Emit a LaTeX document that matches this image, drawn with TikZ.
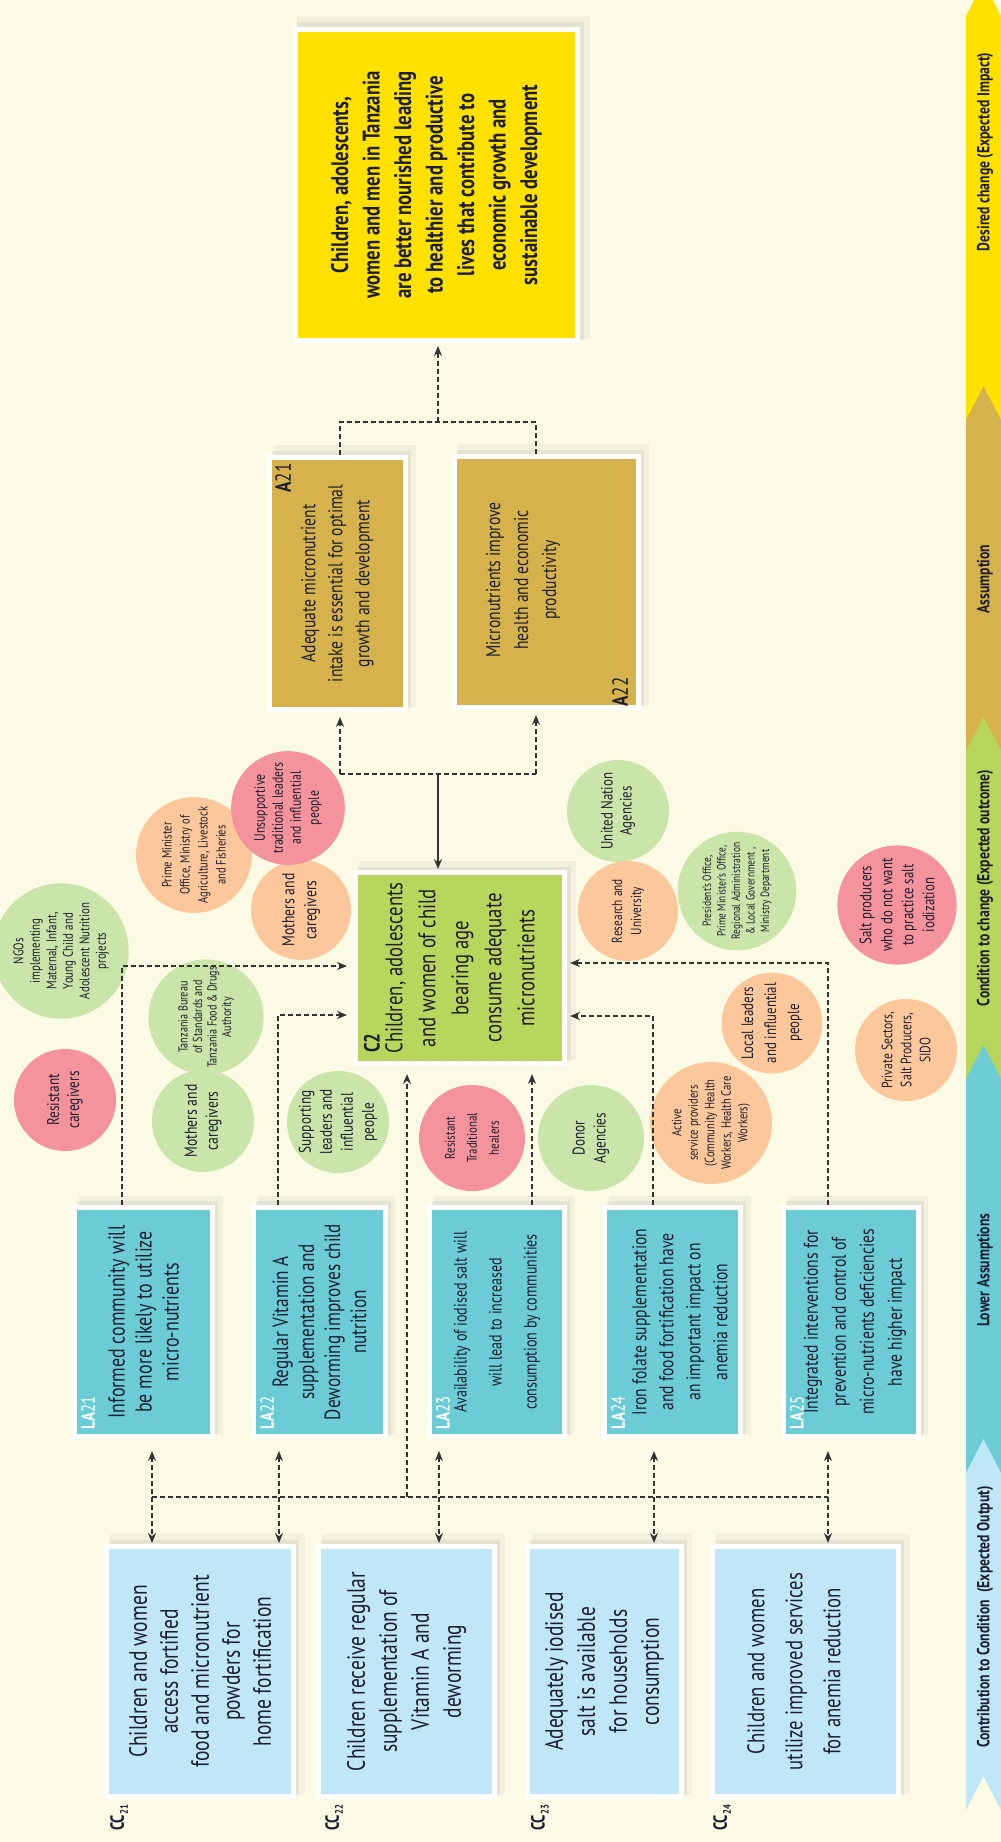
\documentclass[tikz,border=0pt]{standalone}
\usepackage{fontspec}
\setmainfont{PT Sans}[FakeStretch=0.78]
\usetikzlibrary{arrows.meta,shadows}
\definecolor{bg}{HTML}{FBFAE5}
\definecolor{txt}{HTML}{1E1E30}
\definecolor{cyel}{HTML}{FFE100}
\definecolor{ctan}{HTML}{D5B24B}
\definecolor{cgrn}{HTML}{B7D65B}
\definecolor{cteal}{HTML}{6CCCD6}
\definecolor{clb}{HTML}{BFE7F8}
\definecolor{kgrn}{HTML}{CAE5A9}
\definecolor{korg}{HTML}{FCC89B}
\definecolor{kpnk}{HTML}{F4939C}
\definecolor{lne}{HTML}{333333}
\newcommand{\fs}[2]{\fontsize{#1}{#2}\selectfont}
\tikzset{
  box/.style={rotate=90, draw=white, line width=5pt, inner sep=0pt, outer sep=2.5pt,
    align=center, text=txt,
    drop shadow={shadow xshift=7pt, shadow yshift=7pt, opacity=0.07, shadow scale=1.04},
    drop shadow={shadow xshift=4pt, shadow yshift=4pt, opacity=0.12, shadow scale=1.02}},
  circ/.style={circle, rotate=90, inner sep=0pt, align=center, text=txt},
  lbl/.style={rotate=90, inner sep=0pt, align=center, text=txt},
  dl/.style={draw=lne, line width=1.3pt, dash pattern=on 5pt off 3pt},
  sl/.style={draw=lne, line width=1.3pt},
  arr/.style={-{Stealth[length=10pt,width=8pt]}, shorten >=3pt},
  darr/.style={{Stealth[length=10pt,width=8pt]}-{Stealth[length=10pt,width=8pt]}},
  band/.style={rotate=90, inner sep=0pt, text=txt, font=\bfseries\fs{17.5}{17.5}}
}
\begin{document}
\begin{tikzpicture}[x=1pt,y=-1pt]
\useasboundingbox (0,0) rectangle (1001,1842);
\fill[bg] (0,0) rectangle (1001,1842);

% right band
\fill[cyel] (966,16) -- (983.5,-18) -- (1001,16) -- (1001,420) -- (966,420) -- cycle;
\fill[ctan] (966,420) -- (983.5,386) -- (1001,420) -- (1001,751) -- (966,751) -- cycle;
\fill[cgrn] (966,751) -- (983.5,717) -- (1001,751) -- (1001,1079) -- (966,1079) -- cycle;
\fill[cteal] (966,1079) -- (983.5,1045) -- (1001,1079) -- (1001,1473) -- (966,1473) -- cycle;
\fill[clb] (966,1473) -- (983.5,1439) -- (1001,1473) -- (1001,1810) -- (983.5,1776) -- (966,1810) -- cycle;
\node[band] (t1) at (985,152) {Desired change (Expected Impact)};
\node[band] (t2) at (985,579) {Assumption};
\node[band] (t3) at (985,888) {Condition to change (Expected outcome)};
\node[band] (t4) at (985,1270) {Lower Assumptions};
\node[band] (t5) at (985,1617) {Contribution to Condition~~(Expected Output)};

% circles
\node[circ, fill=kpnk, minimum size=102pt, font=\fs{17}{20}] (k1) at (65,1100) {Resistant\\caregivers};
\node[circ, fill=kgrn, minimum size=102pt, font=\fs{17.5}{21}] (k2) at (203,1121) {Mothers and\\caregivers};
\node[circ, fill=kgrn, minimum size=106pt, font=\fs{13}{14.5}] (k3) at (206,1017) {Tanzania Bureau\\of Standards and\\Tanzania Food \& Drugs\\Authority};
\node[circ, fill=kgrn, minimum size=110pt, font=\fs{14}{16.5}] (k4) at (61,951) {NGOs\\implementing\\Maternal, Infant,\\Young Child and\\Adolescent Nutrition\\projects};
\node[circ, fill=korg, minimum size=104pt, font=\fs{13.5}{18}] (k5) at (194,855) {Prime Minister\\Office, Ministry of\\Agriculture, Livestock\\and Fisheries};
\node[circ, fill=korg, minimum size=100pt, font=\fs{17.5}{22}] (k6) at (301,910) {Mothers and\\caregivers};
\node[circ, fill=kpnk, minimum size=100pt, font=\fs{15}{18}] (k7) at (288,808) {Unsupportive\\traditional leaders\\and influential\\people};
\node[circ, fill=kgrn, minimum size=102pt, font=\fs{17}{21}] (k8) at (338,1122) {Supporting\\leaders and\\influential\\people};
\node[circ, fill=kpnk, minimum size=106pt, font=\fs{14}{22}] (k9) at (472,1138) {Resistant\\Traditional\\healers};
\node[circ, fill=kgrn, minimum size=106pt, font=\fs{17}{21}] (k10) at (591,1138) {Donor\\Agencies};
\node[circ, fill=kgrn, minimum size=102pt, font=\fs{16.5}{19}] (k11) at (618,811) {United Nation\\Agencies};
\node[circ, fill=korg, minimum size=100pt, font=\fs{14.5}{19}] (k12) at (628,911) {Research and\\University};
\node[circ, fill=kgrn, minimum size=102pt, font=\fs{12}{14.5}] (k13) at (737,891) {President's Office,\\Prime Minister's Office,\\Regional Administration\\\& Local Government ,\\Ministry Department};
\node[circ, fill=kpnk, minimum size=102pt, font=\fs{16.5}{21}] (k14) at (897,905) {Salt producers\\who do not want\\to practice salt\\iodization};
\node[circ, fill=korg, minimum size=100pt, font=\fs{16.5}{23}] (k15) at (772,1023) {Local leaders\\and influential\\people};
\node[circ, fill=korg, minimum size=100pt, font=\fs{13.5}{16.5}] (k16) at (711,1123) {Active\\service providers\\(Community Health\\Workers, Health Care\\Workers)};
\node[circ, fill=korg, minimum size=102pt, font=\fs{15}{19}] (k17) at (906,1050) {Private Sectors,\\Salt Producers,\\SIDO};

% impact
\node[box, fill=cyel, minimum width=311pt, minimum height=282pt, font=\bfseries\fs{24}{31.5}] (imp) at (436.5,185)
  {Children, adolescents,\\women and men in Tanzania\\are better nourished leading\\to healthier and productive\\lives that contribute to\\economic growth and\\sustainable development};

% assumptions
\node[box, fill=ctan, minimum width=252pt, minimum height=136pt, font=\fs{20}{27}] (a21) at (337.5,583.5)
  {Adequate micronutrient\\intake is essential for optimal\\growth and development};
\node[lbl, font=\fs{22}{22}] (a21l) at (283,478) {\bfseries A\mdseries 21};
\node[box, fill=ctan, minimum width=251pt, minimum height=184pt] (a22) at (546.5,582) {};
\node[lbl, font=\fs{20}{28}] (a22t) at (523,580) {Micronutrients improve\\health and economic\\productivity};
\node[lbl, font=\fs{22}{22}] (a22l) at (620,692) {\bfseries A\mdseries 22};

% condition
\node[box, fill=cgrn, minimum width=191pt, minimum height=209pt, font=\fs{24}{33}] (c2) at (460,968)
  {Children, adolescents\\and women of child\\bearing age\\consume adequate\\micronutrients};
\node[lbl, font=\bfseries\fs{22}{22}] (c2l) at (372,1043) {C2};

% lower assumptions
\node[box, fill=cteal, minimum width=229pt, minimum height=138pt, font=\fs{23}{27}] (la21) at (143.5,1322)
  {Informed community will\\be more likely to utilize\\micro-nutrients};
\node[box, fill=cteal, minimum width=229pt, minimum height=132pt, font=\fs{22}{26}] (la22) at (319.5,1322)
  {Regular Vitamin A\\supplementation and\\Deworming improves child\\nutrition};
\node[box, fill=cteal, minimum width=229pt, minimum height=135pt, font=\fs{18}{35}] (la23) at (497,1322)
  {Availability of iodised salt will\\will lead to increased\\consumption by communities};
\node[box, fill=cteal, minimum width=229pt, minimum height=136pt] (la24) at (672.5,1322) {};
\node[lbl, font=\fs{20}{27}] (la24t) at (680,1322) {Iron folate  supplementation\\and food fortification have\\an important impact on\\anemia reduction};
\node[box, fill=cteal, minimum width=229pt, minimum height=135pt] (la25) at (851,1322) {};
\node[lbl, font=\fs{20}{28}] (la25t) at (855,1322) {Integrated interventions for\\prevention and control of\\micro-nutrients deficiencies\\have higher impact};
\node[lbl, text=white, font=\fs{19}{19}] (l1) at (88,1413) {\bfseries LA\mdseries 21};
\node[lbl, text=white, font=\fs{19}{19}] (l2) at (267,1413) {\bfseries LA\mdseries 22};
\node[lbl, text=white, font=\fs{19}{19}] (l3) at (443,1413) {\bfseries LA\mdseries 23};
\node[lbl, text=white, font=\fs{19}{19}] (l4) at (618,1413) {\bfseries LA\mdseries 24};
\node[lbl, text=white, font=\fs{19}{19}] (l5) at (797,1413) {\bfseries LA\mdseries 25};

% contributions
\node[box, fill=clb, minimum width=250pt, minimum height=187pt, font=\fs{25}{31}] (cc21) at (200,1671.5)
  {Children and women\\access fortified\\food and micronutrient\\powders for\\home fortification};
\node[box, fill=clb, minimum width=250pt, minimum height=176pt, font=\fs{25}{32}] (cc22) at (406.5,1671.5)
  {Children receive regular\\supplementation of\\Vitamin A and\\deworming};
\node[box, fill=clb, minimum width=250pt, minimum height=154pt, font=\fs{25}{32}] (cc23) at (604.5,1671.5)
  {Adequately iodised\\salt is available\\for households\\consumption};
\node[box, fill=clb, minimum width=250pt, minimum height=186pt] (cc24) at (805.5,1671.5) {};
\node[lbl, font=\fs{24}{38}] (cc24t) at (794,1671.5) {Children and women\\utilize improved services\\for anemia reduction};
\node[lbl, font=\bfseries\fs{19}{19}] (m1) at (119,1818) {CC\raisebox{-4pt}{\fs{11}{11}21}};
\node[lbl, font=\bfseries\fs{19}{19}] (m2) at (334,1818) {CC\raisebox{-4pt}{\fs{11}{11}22}};
\node[lbl, font=\bfseries\fs{19}{19}] (m3) at (540,1818) {CC\raisebox{-4pt}{\fs{11}{11}23}};
\node[lbl, font=\bfseries\fs{19}{19}] (m4) at (722,1818) {CC\raisebox{-4pt}{\fs{11}{11}24}};

% connectors
\coordinate (jtop) at (438,422);
\coordinate (jmid) at (438,774);
\coordinate (xa21) at (340,0);
\coordinate (xa22) at (536,0);
\draw[dl] (xa21 |- a21.east) -- (xa21 |- jtop) -- (xa22 |- jtop) -- (xa22 |- a22.east);
\draw[dl, arr] (jtop) -- (jtop |- imp.west);
\draw[dl] (xa21 |- jmid) -- (xa22 |- jmid);
\draw[dl, arr, shorten >=5pt] (xa21 |- jmid) -- (xa21 |- a21.west);
\draw[dl, arr, shorten >=5pt] (xa22 |- jmid) -- (xa22 |- a22.west);
\draw[sl, arr, shorten >=1pt] (jmid) -- (jmid |- c2.east);

\coordinate (xl21) at (122,0);
\coordinate (xl22) at (278,0);
\coordinate (xl23) at (532,0);
\coordinate (xl24) at (653,0);
\coordinate (xl25) at (828,0);
\coordinate (yl21) at (0,966);
\coordinate (yl22) at (0,1015);
\coordinate (yl24) at (0,1016);
\coordinate (yl25) at (0,963);
\draw[dl, arr, shorten >=6pt] (xl21 |- la21.east) -- (xl21 |- yl21) -- (c2.north |- yl21);
\draw[dl, arr, shorten >=6pt] (xl22 |- la22.east) -- (xl22 |- yl22) -- (c2.north |- yl22);
\draw[dl, arr, shorten >=8pt] (xl23 |- la23.east) -- (xl23 |- c2.west);
\draw[dl, arr] (xl24 |- la24.east) -- (xl24 |- yl24) -- (c2.south |- yl24);
\draw[dl, arr] (xl25 |- la25.east) -- (xl25 |- yl25) -- (c2.south |- yl25);

\coordinate (bus1) at (152,1497);
\coordinate (bus5) at (828,1497);
\coordinate (bus0) at (407,1497);
\draw[dl] (bus1) -- (bus5);
\draw[dl, arr, shorten >=8pt] (bus0) -- (bus0 |- c2.west);
\coordinate (d1) at (152,0);
\coordinate (d2) at (279,0);
\coordinate (d3) at (439,0);
\coordinate (d4) at (654,0);
\coordinate (d5) at (828,0);
\draw[dl, darr, shorten <=12pt, shorten >=1pt] (d1 |- la21.west) -- (d1 |- cc21.east);
\draw[dl, darr, shorten <=12pt, shorten >=1pt] (d2 |- la22.west) -- (d2 |- cc21.east);
\draw[dl, darr, shorten <=12pt, shorten >=1pt] (d3 |- la23.west) -- (d3 |- cc22.east);
\draw[dl, darr, shorten <=12pt, shorten >=1pt] (d4 |- la24.west) -- (d4 |- cc23.east);
\draw[dl, darr, shorten <=12pt, shorten >=1pt] (d5 |- la25.west) -- (d5 |- cc24.east);
\end{tikzpicture}
\end{document}
